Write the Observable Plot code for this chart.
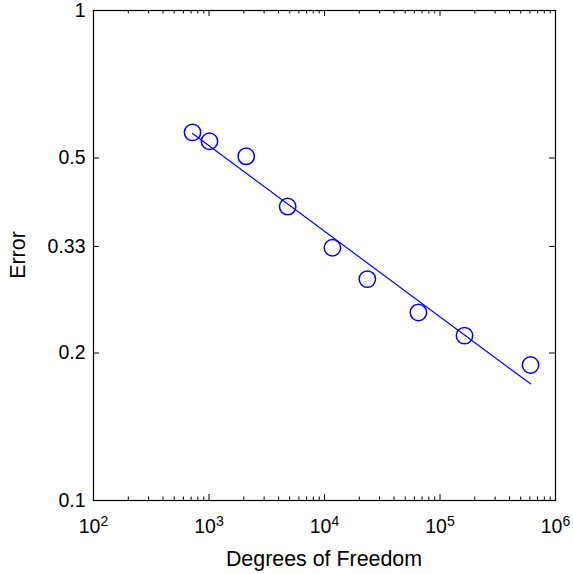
<!DOCTYPE html>
<html>
<head>
<meta charset="utf-8">
<script src="https://cdn.jsdelivr.net/npm/d3@7"></script>
<script src="https://cdn.jsdelivr.net/npm/@observablehq/plot@0.6"></script>
<style>
  html, body { margin: 0; padding: 0; background: #fff; }
  svg text { font-family: "Liberation Sans", Arial, Helvetica, sans-serif; }
</style>
</head>
<body>
<div id="chart"></div>
<script>
// ---- data ----
const dof   = [720, 1010, 2100, 4800, 11700, 23500, 65000, 163000, 608000];
const error = [0.564, 0.541, 0.504, 0.398, 0.328, 0.283, 0.242, 0.217, 0.189];
// fitted line endpoints
const fitDof   = [720, 608000];
const fitError = [0.561, 0.173];
// tick values / labels
const xMajor = [1e2, 1e3, 1e4, 1e5, 1e6];
const xMinorFactors = [2, 3, 4, 5, 6, 7, 8, 9];
const yTicks = [0.1, 0.2, 0.33, 0.5, 1];
const yTickLabels = ["0.1", "0.2", "0.33", "0.5", "1"];
const xLabel = "Degrees of Freedom";
const yLabel = "Error";

const points = dof.map((d, i) => ({dof: d, error: error[i]}));
const fit = fitDof.map((d, i) => ({dof: d, error: fitError[i]}));
const xMinor = xMajor.slice(0, -1).flatMap(m => xMinorFactors.map(k => k * m));

const W = 573, H = 574;
const mL = 93, mR = 18, mT = 10, mB = 74;
const pH = H - mT - mB, pW = W - mL - mR;
const majorLen = 6, minorLen = 3.5;
const blue = "#0000ff";
const tickFont = 19.5, labelFont = 21.4;

const chart = Plot.plot({
  width: W, height: H,
  marginLeft: mL, marginRight: mR, marginTop: mT, marginBottom: mB,
  style: {fontFamily: "Liberation Sans, Arial, sans-serif", fontSize: tickFont + "px", background: "#fff", color: "#000"},
  x: {type: "log", domain: [1e2, 1e6]},
  y: {type: "log", domain: [0.1, 1]},
  marks: [
    // tick marks, drawn inward on all four sides
    Plot.ruleX(xMajor, {x: d => d, insetTop: pH - majorLen, stroke: "#000"}),
    Plot.ruleX(xMajor, {x: d => d, insetBottom: pH - majorLen, stroke: "#000"}),
    Plot.ruleX(xMinor, {x: d => d, insetTop: pH - minorLen, stroke: "#000"}),
    Plot.ruleX(xMinor, {x: d => d, insetBottom: pH - minorLen, stroke: "#000"}),
    Plot.ruleY(yTicks, {y: d => d, insetRight: pW - majorLen, stroke: "#000"}),
    Plot.ruleY(yTicks, {y: d => d, insetLeft: pW - majorLen, stroke: "#000"}),
    // axes labels
    Plot.axisX({ticks: xMajor, tickSize: 0, tickPadding: 19, fontSize: tickFont,
      tickFormat: d => "10^" + Math.round(Math.log10(d)), label: null}),
    Plot.axisY({ticks: yTicks, tickSize: 0, tickPadding: 8, fontSize: tickFont,
      tickFormat: d => yTickLabels[yTicks.indexOf(d)], label: null}),
    Plot.frame({stroke: "#000", strokeWidth: 1.2}),
    // data
    Plot.line(fit, {x: "dof", y: "error", stroke: blue, strokeWidth: 1.2}),
    Plot.dot(points, {x: "dof", y: "error", r: 8.2, stroke: blue, strokeWidth: 1.5, fill: "none"})
  ]
});

// superscript exponents on the x tick labels
d3.select(chart).selectAll('g[aria-label="x-axis tick label"] text').each(function() {
  const t = d3.select(this);
  const [base, exp] = t.text().split("^");
  t.text(null);
  t.append("tspan").text(base);
  t.append("tspan").attr("dy", "-0.55em").attr("font-size", "14px").text(exp);
});

// axis titles
const svg = d3.select(chart);
svg.append("text")
  .attr("x", mL + pW / 2).attr("y", 566)
  .attr("text-anchor", "middle").attr("font-size", labelFont + "px").attr("fill", "#000")
  .text(xLabel);
svg.append("text")
  .attr("transform", `translate(25, ${mT + pH / 2}) rotate(-90)`)
  .attr("text-anchor", "middle").attr("font-size", labelFont + "px").attr("fill", "#000")
  .text(yLabel);

document.getElementById("chart").appendChild(chart);
</script>
</body>
</html>
